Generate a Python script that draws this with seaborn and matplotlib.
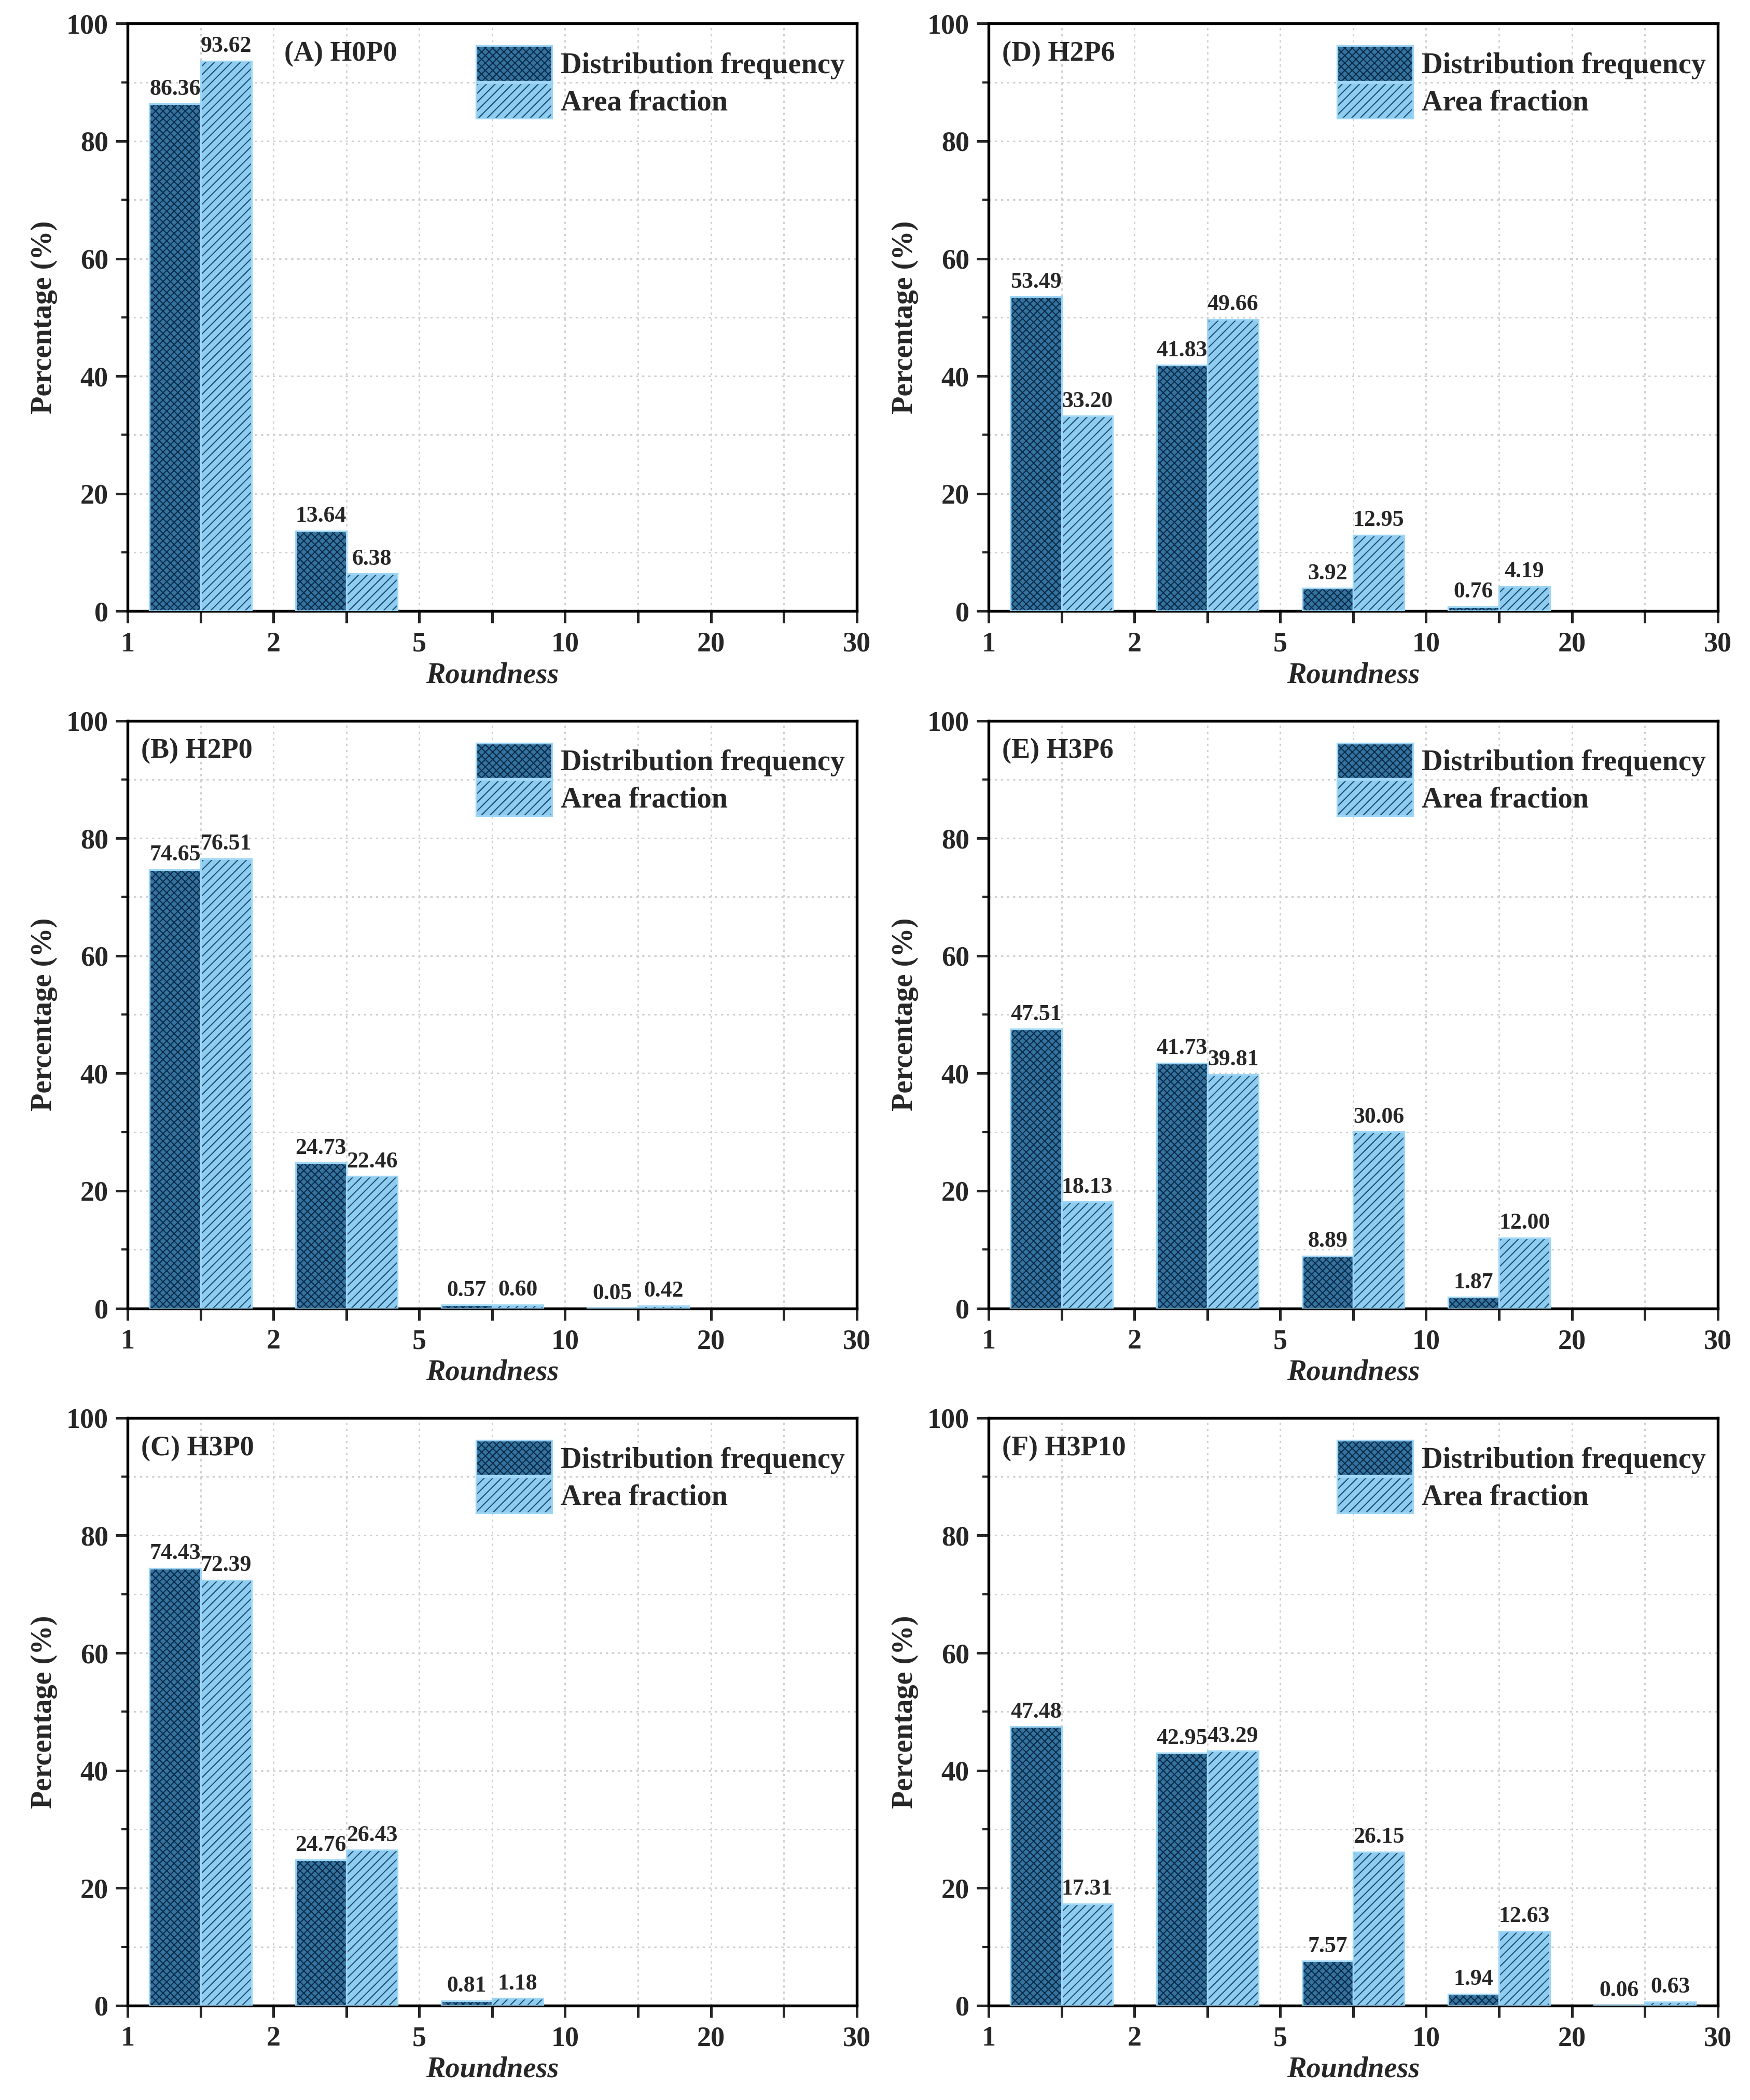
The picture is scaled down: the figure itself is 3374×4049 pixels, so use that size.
import numpy as np
import pandas as pd
import matplotlib
matplotlib.use("Agg")
import matplotlib.pyplot as plt
from matplotlib.patches import Patch
from matplotlib.colors import to_rgba
from matplotlib.ticker import FixedLocator, MultipleLocator
import seaborn as sns

# ---------------- data ----------------
bins = ["1-2", "2-5", "5-10", "10-20", "20-30"]
tick_labels = ["1", "2", "5", "10", "20", "30"]
series = ["Distribution frequency", "Area fraction"]
panels = ["(A) H0P0", "(B) H2P0", "(C) H3P0", "(D) H2P6", "(E) H3P6", "(F) H3P10"]
nan = np.nan
freq_A = [86.36, 13.64, nan, nan, nan]
area_A = [93.62, 6.38, nan, nan, nan]
freq_B = [74.65, 24.73, 0.57, 0.05, nan]
area_B = [76.51, 22.46, 0.60, 0.42, nan]
freq_C = [74.43, 24.76, 0.81, nan, nan]
area_C = [72.39, 26.43, 1.18, nan, nan]
freq_D = [53.49, 41.83, 3.92, 0.76, nan]
area_D = [33.20, 49.66, 12.95, 4.19, nan]
freq_E = [47.51, 41.73, 8.89, 1.87, nan]
area_E = [18.13, 39.81, 30.06, 12.00, nan]
freq_F = [47.48, 42.95, 7.57, 1.94, 0.06]
area_F = [17.31, 43.29, 26.15, 12.63, 0.63]
freqs = [freq_A, freq_B, freq_C, freq_D, freq_E, freq_F]
areas = [area_A, area_B, area_C, area_D, area_E, area_F]

# ---------------- style ----------------
sns.set_style("white")
plt.rcParams["font.family"] = ["Liberation Serif", "DejaVu Serif"]
plt.rcParams["font.weight"] = "bold"
plt.rcParams["axes.labelweight"] = "bold"
plt.rcParams["hatch.linewidth"] = 0.5

face_cols = ["#3473a0", "#8fcdf0"]
hatch_cols = ["#082a46", "#1d4d72"]
hatches = ["xxxxxxx", "//////"]
edge_col = "#9fd6f5"

fig = plt.figure(figsize=(3374 / 300, 4049 / 300), dpi=300)
col_left = [0.073, 0.565]
row_bottom = [0.709, 0.377, 0.045]
w, h = 0.4165, 0.2798
title_x = [0.215, 0.018, 0.018, 0.018, 0.018, 0.018]

for k in range(6):
    c, r = divmod(k, 3)
    ax = fig.add_axes([col_left[c], row_bottom[r], w, h])
    df = pd.DataFrame({
        "bin": bins * 2,
        "value": list(freqs[k]) + list(areas[k]),
        "series": [series[0]] * len(bins) + [series[1]] * len(bins),
    }).dropna()
    sns.barplot(data=df, x="bin", y="value", hue="series", order=bins,
                hue_order=series, palette=face_cols, width=0.7, gap=0,
                edgecolor=edge_col, linewidth=0.8, saturation=1,
                legend=False, ax=ax, zorder=3)
    for i, cont in enumerate(ax.containers):
        for p in cont.patches:
            p.set_hatch(hatches[i])
            p._hatch_color = to_rgba(hatch_cols[i])
        ax.bar_label(cont, fmt="%.2f", padding=2, fontsize=10.5,
                     fontweight="bold", zorder=4)

    ax.set_xlim(-0.5, len(bins) - 0.5)
    ax.set_ylim(0, 100)
    ax.xaxis.set_major_locator(FixedLocator(np.arange(len(tick_labels)) - 0.5))
    ax.set_xticklabels(tick_labels)
    ax.xaxis.set_minor_locator(FixedLocator(np.arange(len(bins))))
    ax.yaxis.set_major_locator(MultipleLocator(20))
    ax.yaxis.set_minor_locator(MultipleLocator(10))
    ax.tick_params(axis="x", which="both", direction="out", length=5.5,
                   width=1.2, labelsize=13, pad=4, bottom=True)
    ax.tick_params(axis="y", which="major", direction="out", length=5.5,
                   width=1.2, labelsize=13, left=True)
    ax.tick_params(axis="y", which="minor", direction="out", length=3,
                   width=1.0, left=True)
    ax.grid(which="both", axis="both", linestyle=(0, (1.5, 2.5)),
            color="#cfcfcf", linewidth=0.7, zorder=0)
    ax.set_axisbelow(True)
    for s in ax.spines.values():
        s.set_visible(True)
        s.set_color("black")
        s.set_linewidth(1.3)
    ax.set_xlabel("Roundness", fontsize=13.5, fontweight="bold",
                  fontstyle="italic", labelpad=2)
    ax.set_ylabel("Percentage (%)", fontsize=13.5, fontweight="bold",
                  labelpad=4)
    ax.text(title_x[k], 0.948, panels[k], transform=ax.transAxes,
            fontsize=13, fontweight="bold", va="center", ha="left")

    handles = []
    for i in range(2):
        hp = Patch(facecolor=face_cols[i], edgecolor=edge_col, linewidth=0.8,
                   hatch=hatches[i], label=series[i])
        hp._hatch_color = to_rgba(hatch_cols[i])
        handles.append(hp)
    ax.legend(handles=handles, loc="upper right", bbox_to_anchor=(1.0, 0.982),
              frameon=False, borderaxespad=0,
              handlelength=2.6, handleheight=1.5, handletextpad=0.3,
              labelspacing=0.05, prop={"weight": "bold", "size": 13.5})

fig.savefig("out.png", dpi=300)
